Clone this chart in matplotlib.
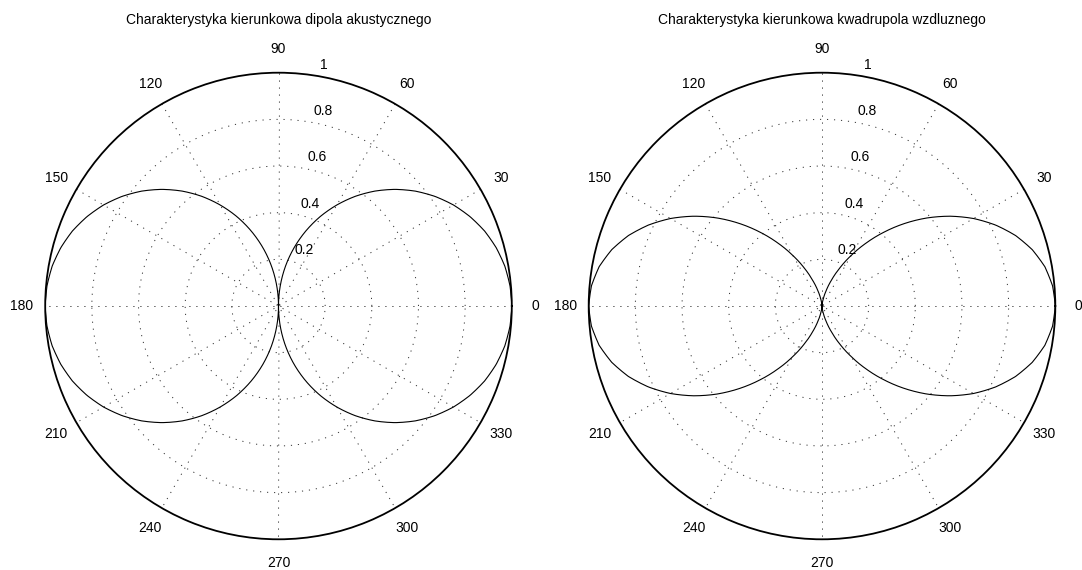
import numpy as np
import matplotlib
matplotlib.use("Agg")
import matplotlib.pyplot as plt

plt.rcParams['font.family'] = ['Liberation Sans', 'DejaVu Sans']

# values read every 5 degrees from 0 to 90 (patterns are symmetric)
dipole_q = [1.0, 0.996, 0.985, 0.966, 0.940, 0.906, 0.866, 0.819, 0.766, 0.707,
            0.643, 0.574, 0.500, 0.423, 0.342, 0.259, 0.174, 0.087, 0.0]
quad_q = [1.0, 0.992, 0.970, 0.933, 0.883, 0.821, 0.750, 0.671, 0.587, 0.500,
          0.413, 0.329, 0.250, 0.179, 0.117, 0.067, 0.030, 0.008, 0.0]

titles = ["Charakterystyka kierunkowa dipola akustycznego",
          "Charakterystyka kierunkowa kwadrupola wzdluznego"]
theta_labels = ["0", "30", "60", "90", "120", "150", "180", "210", "240", "270", "300", "330"]
r_labels = ["0.2", "0.4", "0.6", "0.8", "1"]
r_values = [0.2, 0.4, 0.6, 0.8, 1.0]


def full_curve(q):
    q = list(q)
    return q + q[-2::-1] + q[1:] + q[-2::-1]


angles = np.deg2rad(np.arange(0, 361, 5))
curves = [full_curve(dipole_q), full_curve(quad_q)]

fig = plt.figure(figsize=(10.82, 5.70), dpi=100)
W, H = 1082, 570
R = 233.3
centers = [(278.5, 306), (822, 306)]
dots = (0, (1.2, 6))

for (cx, cy), r, title in zip(centers, curves, titles):
    ax = fig.add_axes([(cx - R) / W, (H - cy - R) / H, 2 * R / W, 2 * R / H],
                      projection='polar')
    ax.set_ylim(0, 1)
    ax.grid(False)
    ax.set_xticks([])
    ax.set_yticks([])
    ax.spines['polar'].set_linewidth(1.3)

    # dotted spokes and circles
    ring = np.linspace(0, 2 * np.pi, 400)
    for rv in r_values[:-1]:
        ax.plot(ring, [rv] * len(ring), color='#333333', lw=0.7, linestyle=dots)
    for i in range(6):
        th = np.deg2rad(30 * i)
        ax.plot([th, th + np.pi], [1, 1], color='#333333', lw=0.7, linestyle=dots)

    ln, = ax.plot(angles, r, color='k', lw=0.8)
    ln.get_path()._interpolation_steps = 16

    for i, lab in enumerate(theta_labels):
        ax.text(np.deg2rad(30 * i), 1.1, lab, ha='center', va='center',
                fontsize=10, clip_on=False)
    for rv, lab in zip(r_values, r_labels):
        ax.annotate(lab, xy=(np.deg2rad(82), rv), xytext=(6.8, 4.3),
                    textcoords='offset points', ha='left', va='baseline',
                    fontsize=10, annotation_clip=False)

    fig.text(cx / W, 1 - 20 / H, title, ha='center', va='center', fontsize=10)

fig.savefig("out.png", dpi=100)
